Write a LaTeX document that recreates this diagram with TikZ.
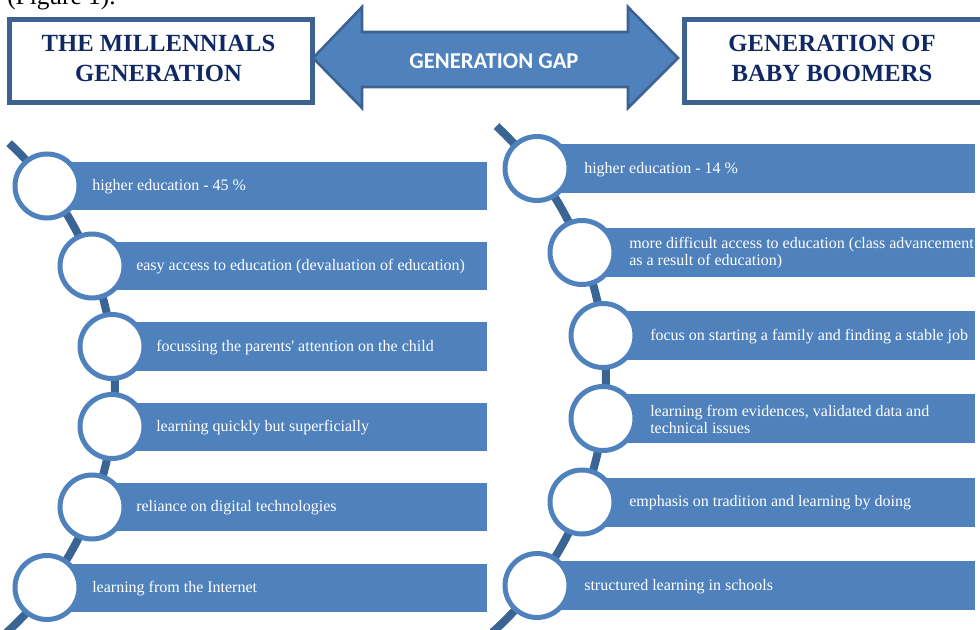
\documentclass[tikz,border=0pt]{standalone}
\usepackage{fontspec}
\setmainfont{Liberation Serif}[Ligatures=TeXOff]
\newfontfamily\calib{Carlito}
\definecolor{barblue}{RGB}{79,129,189}
\definecolor{lineblue}{RGB}{58,100,148}
\definecolor{frameblue}{RGB}{60,98,145}
\definecolor{navy}{RGB}{16,40,100}
\tikzset{
  hdrbox/.style={draw=frameblue, line width=3.75pt, fill=white, inner sep=0pt},
  hdrtext/.style={text=navy, font=\fontsize{18.5}{22.5}\selectfont\bfseries, align=center},
  bar/.style={fill=barblue, draw=none},
  ring/.style={circle, draw=barblue, line width=3.75pt, fill=white, minimum size=48pt, inner sep=0pt},
  bartext/.style={anchor=west, text=white, font=\fontsize{12}{12.8}\selectfont, align=left, inner sep=0pt},
  spine/.style={draw=lineblue, line width=6pt},
}
\begin{document}
\begin{tikzpicture}[x=0.75pt, y=-0.75pt]
\useasboundingbox (0,0) rectangle (980,630);
\clip (0,0) rectangle (980,630);
% cut-off caption at top
\node[anchor=base west, inner sep=0pt, font=\fontsize{19}{22}\selectfont] (cap) at (7,5) {(Figure 1).};
% header boxes
\node[hdrbox, minimum width=227.25pt, minimum height=62.25pt, anchor=north west] (mill) at (7,17) {};
\node[hdrtext] (milltxt) at (158.5,58) {THE MILLENNIALS\\GENERATION};
\node[hdrbox, minimum width=232.5pt, minimum height=62.25pt, anchor=north west] (boom) at (682,17) {};
\node[hdrtext] (boomtxt) at (832,58) {GENERATION OF\\BABY BOOMERS};
% double arrow
\draw[fill=barblue, draw=frameblue, line width=1.9pt, line join=miter]
  (313,58) -- (362,7) -- (362,32) -- (628,32) -- (628,7) -- (678,58)
  -- (628,108) -- (628,87) -- (362,87) -- (362,108) -- cycle;
\node[text=white, font=\calib\fontsize{17}{20}\selectfont\bfseries] (gap) at (494,61) {GENERATION GAP};
% spines
\draw[spine] (-218,386.7) ++(-47:333) arc[start angle=-47, end angle=48, radius=333];
\draw[spine] (263,377.4) ++(-47.1:343) arc[start angle=-47.1, end angle=48, radius=343];
% left column
\foreach \n/\cx/\cy/\tx/\txt in {
  l1/47/186/92/{higher education - 45 \%},
  l2/92/266/136/{easy access to education (devaluation of education)},
  l3/112/346.5/156/{focussing the parents' attention on the child},
  l4/112/426.5/156/{learning quickly but superficially},
  l5/92/507/136/{reliance on digital technologies},
  l6/47/587.5/92/{learning from the Internet}}{
  \fill[bar] (\cx,\cy-24) rectangle (487,\cy+24);
  \node[ring] (\n c) at (\cx,\cy) {};
  \node[bartext] (\n t) at (\tx,\cy+1) {\txt};
}
% right column
\foreach \n/\cx/\cy/\tx/\txt in {
  r1/537/168.5/584/{higher education - 14 \%},
  r2/582/252.5/629/{more difficult access to education (class advancement\\as a result of education)},
  r3/603/335.5/650/{focus on starting a family and finding a stable job},
  r4/603/418.5/650/{learning from evidences, validated data and\\technical issues},
  r5/582/502/629/{emphasis on tradition and learning by doing},
  r6/537/585.5/584/{structured learning in schools}}{
  \fill[bar] (\cx,\cy-24.5) rectangle (975,\cy+24.5);
  \node[ring] (\n c) at (\cx,\cy) {};
  \node[bartext] (\n t) at (\tx,\cy+1) {\txt};
}
\end{tikzpicture}
\end{document}
